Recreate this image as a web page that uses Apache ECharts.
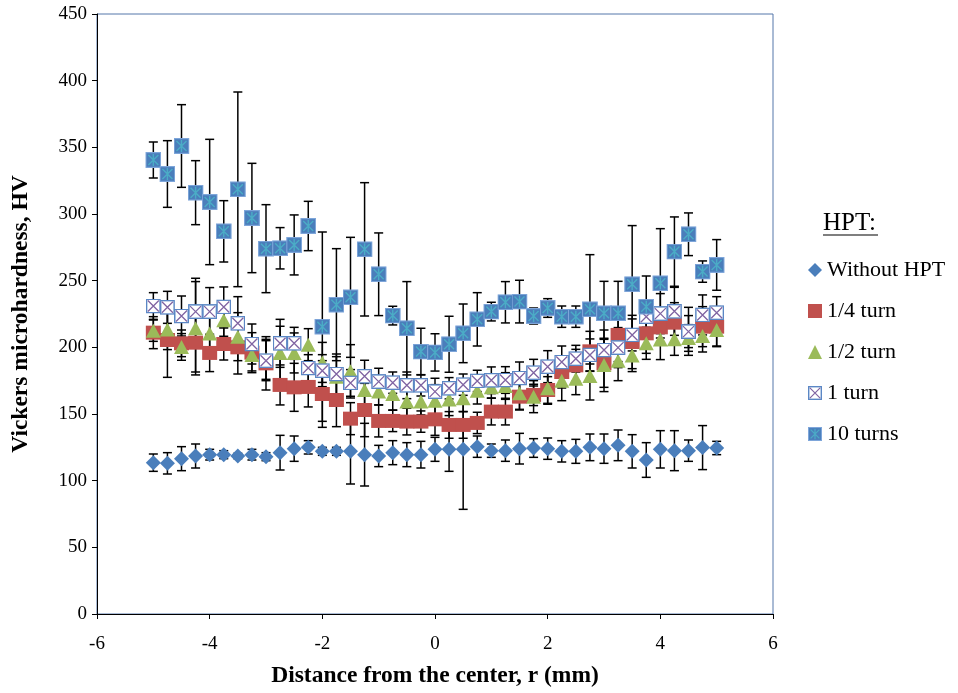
<!DOCTYPE html>
<html><head><meta charset="utf-8">
<script src="https://cdn.jsdelivr.net/npm/echarts@6/dist/echarts.min.js"></script>
<style>html,body{margin:0;padding:0;background:#fff}#c{width:958px;height:693px}</style>
</head><body><div id="c"></div>
<script>
// Distance from the center, r (mm)
const distance = [-5, -4.75, -4.5, -4.25, -4, -3.75, -3.5, -3.25, -3, -2.75, -2.5, -2.25, -2, -1.75, -1.5, -1.25, -1, -0.75, -0.5, -0.25, 0,
  0.25, 0.5, 0.75, 1, 1.25, 1.5, 1.75, 2, 2.25, 2.5, 2.75, 3, 3.25, 3.5, 3.75, 4, 4.25, 4.5, 4.75, 5];

const withoutHPT = [113.5, 113, 116.5, 118.5, 119.5, 119.5, 118.5, 119.5, 118, 121, 124, 125, 122, 122, 122, 119.5, 118.5, 121, 119.5, 119.5, 123.5,
  123.5, 123.5, 125.5, 122.5, 122.5, 124, 124.5, 124, 122, 122, 125, 124, 126.5, 122, 115.5, 123.5, 122.5, 122.5, 124.8, 124.5];
const withoutHPTErr = [6.5, 8, 9, 9, 4, 3, 2, 4, 3, 13, 9.5, 5, 3, 3, 24.5, 23.5, 8, 9, 9, 10, 9,
  16.5, 45, 8, 5, 8, 11.5, 7, 8, 8, 9, 10, 11, 11.5, 12.5, 13, 14, 15, 8, 16.5, 5];

const quarterTurn = [211, 205.5, 203, 203.5, 195.8, 202.5, 200, 196, 188, 171.8, 170, 170.3, 165, 160.5, 146.5, 153, 144.8, 144.8, 144.3, 144.3, 146,
  141.8, 141.8, 143.3, 151.8, 151.8, 163, 164.3, 168, 181.5, 186.5, 197, 188, 209.3, 204, 210.5, 215, 218.5, 212, 215.5, 215.5];
const quarterTurnErr = [12, 28, 10, 22, 14, 12, 20, 15, 20, 15, 18, 15, 25, 20, 12, 20, 12, 8, 10, 8, 12,
  10, 10, 8, 10, 10, 10, 8, 10, 12, 12, 15, 18, 20, 20, 15, 12, 15, 18, 15, 15];

const halfTurn = [212.5, 213.3, 200.3, 214.3, 210.3, 220.3, 208, 194.3, 191, 195.8, 195.8, 202, 188.7, 178, 182, 168, 166.8, 165, 159.3, 159.3, 160,
  160.8, 161.8, 167.5, 170, 171, 165.5, 163, 169.3, 175, 176.5, 178.5, 186.8, 190, 193.8, 203, 205.8, 206, 207, 208.5, 213];
const halfTurnErr = [8, 15, 10, 35, 15, 12, 18, 12, 15, 20, 15, 12, 15, 15, 20, 12, 10, 12, 12, 10, 12,
  12, 10, 10, 8, 10, 12, 12, 12, 15, 12, 18, 20, 15, 12, 12, 15, 12, 10, 12, 12];

const oneTurn = [231, 230, 223.5, 226.8, 226.8, 230.3, 218, 202.5, 190, 203, 203, 184.5, 182.5, 180, 173.3, 178.3, 174.3, 173.5, 171.5, 171.5, 166.8,
  169.3, 172, 174.8, 175.3, 175.5, 177, 181, 185.5, 189, 191.5, 194.3, 198, 199.8, 209.3, 223, 225.3, 227, 211.8, 224.3, 226];
const oneTurnErr = [10, 12, 15, 25, 18, 15, 20, 15, 15, 18, 12, 10, 12, 15, 10, 12, 10, 8, 10, 8, 10,
  8, 8, 8, 10, 10, 12, 10, 12, 12, 10, 12, 15, 15, 12, 12, 15, 18, 12, 15, 12];

const tenTurns = [340.5, 330, 351, 316, 309, 287, 318.5, 297, 274, 274.3, 276.8, 291, 215.5, 232, 237.5, 273.5, 254.8, 223.8, 214.3, 196.8, 196.2,
  202.3, 210.5, 221, 226.8, 233.8, 234.3, 223.5, 229.5, 223, 223, 228.5, 225.5, 225.5, 247.3, 230.5, 248, 271.8, 284.8, 256.8, 261.8];
const tenTurnsErr = [13.5, 25, 31, 24, 47, 23, 73, 41, 33, 15.5, 22.5, 18.5, 71, 42, 45, 50, 31, 7, 35, 17.5, 14,
  21, 22, 20, 7, 15.5, 16, 6, 7, 8, 8, 41, 24, 24, 44, 23, 41, 26, 16, 8, 19];

const seriesNames = ['Without HPT', '1/4 turn', '1/2 turn', '1 turn', '10 turns'];

const serif = "'Liberation Serif', 'Times New Roman', serif";

function svgUri(svg) { return 'image://data:image/svg+xml;charset=utf-8,' + encodeURIComponent(svg); }
const oneTurnIcon = svgUri("<svg xmlns='http://www.w3.org/2000/svg' width='30' height='30' viewBox='0 0 15 15'>" +
  "<rect x='0.75' y='0.75' width='13.5' height='13.5' fill='#ffffff' stroke='#5b87c5' stroke-width='1.5'/>" +
  "<path d='M2 2L13 13M13 2L2 13' stroke='#8064a2' stroke-width='1.3' fill='none'/></svg>");
const tenTurnsIcon = svgUri("<svg xmlns='http://www.w3.org/2000/svg' width='32' height='32' viewBox='0 0 16 16'>" +
  "<rect x='0.6' y='0.6' width='14.8' height='14.8' fill='#4a7ebb' stroke='#7ea6da' stroke-width='1.2'/>" +
  "<path d='M3 3L13 13M13 3L3 13M8 2V14' stroke='#4bacc6' stroke-width='1.4' fill='none'/></svg>");

function pts(vals) { return distance.map((x, i) => [x, vals[i]]); }
function errSeries(vals, errs) {
  return {
    type: 'custom', silent: true, z: 1,
    data: distance.map((x, i) => [x, vals[i] - errs[i], vals[i] + errs[i]]),
    encode: { x: 0, y: [1, 2] },
    renderItem: function (params, api) {
      const x = api.value(0);
      const lo = api.coord([x, api.value(1)]);
      const hi = api.coord([x, api.value(2)]);
      const w = 4.5;
      const st = { stroke: '#000', lineWidth: 1.5 };
      return {
        type: 'group', children: [
          { type: 'line', shape: { x1: lo[0], y1: lo[1], x2: hi[0], y2: hi[1] }, style: st },
          { type: 'line', shape: { x1: lo[0] - w, y1: lo[1], x2: lo[0] + w, y2: lo[1] }, style: st },
          { type: 'line', shape: { x1: hi[0] - w, y1: hi[1], x2: hi[0] + w, y2: hi[1] }, style: st }
        ]
      };
    }
  };
}

const chart = echarts.init(document.getElementById('c'), null, { renderer: 'canvas' });
chart.setOption({
  animation: false,
  backgroundColor: '#ffffff',
  grid: { left: 97, right: 185, top: 14, bottom: 79, show: true, borderColor: '#5577aa', borderWidth: 1 },
  xAxis: {
    type: 'value', min: -6, max: 6, interval: 2,
    name: 'Distance from the center, r (mm)', nameLocation: 'middle', nameGap: 50,
    nameTextStyle: { fontFamily: serif, fontWeight: 'bold', fontSize: 23.5, color: '#000' },
    axisLine: { onZero: false, lineStyle: { color: '#000', width: 1 } },
    axisTick: { show: true, inside: false, length: 5, lineStyle: { color: '#000' } },
    axisLabel: { fontFamily: serif, fontSize: 19, color: '#000', margin: 21 },
    splitLine: { show: false }
  },
  yAxis: {
    type: 'value', min: 0, max: 450, interval: 50,
    name: 'Vickers microhardness, HV', nameLocation: 'middle', nameGap: 64, nameRotate: 90,
    nameTextStyle: { fontFamily: serif, fontWeight: 'bold', fontSize: 23.5, color: '#000' },
    axisLine: { show: true, onZero: false, lineStyle: { color: '#000', width: 1 } },
    axisTick: { show: true, inside: false, length: 5, lineStyle: { color: '#000' } },
    axisLabel: { fontFamily: serif, fontSize: 19, color: '#000', margin: 10 },
    splitLine: { show: false }
  },
  legend: {
    orient: 'vertical', left: 803, top: 254, itemWidth: 14, itemHeight: 14, itemGap: 19,
    textStyle: { fontFamily: serif, fontSize: 22, color: '#000' },
    data: [
      { name: seriesNames[0], icon: 'diamond' },
      { name: seriesNames[1], icon: 'rect' },
      { name: seriesNames[2], icon: 'triangle' },
      { name: seriesNames[3], icon: oneTurnIcon },
      { name: seriesNames[4], icon: tenTurnsIcon }
    ]
  },
  graphic: [
    { type: 'text', left: 823, top: 211, style: { text: 'HPT:', fontFamily: serif, fontSize: 25, fill: '#000' } },
    { type: 'line', shape: { x1: 823, y1: 235, x2: 878, y2: 235 }, style: { stroke: '#000', lineWidth: 1.2 } }
  ],
  series: [
    errSeries(withoutHPT, withoutHPTErr),
    errSeries(quarterTurn, quarterTurnErr),
    errSeries(halfTurn, halfTurnErr),
    errSeries(oneTurn, oneTurnErr),
    errSeries(tenTurns, tenTurnsErr),
    { name: seriesNames[0], type: 'scatter', z: 2, data: pts(withoutHPT), symbol: 'diamond', symbolSize: [15, 15],
      itemStyle: { color: '#4a7ebb', opacity: 1 } },
    { name: seriesNames[1], type: 'scatter', z: 3, data: pts(quarterTurn), symbol: 'rect', symbolSize: [15, 14],
      itemStyle: { color: '#c0504d', opacity: 1 } },
    { name: seriesNames[2], type: 'scatter', z: 4, data: pts(halfTurn), symbol: 'triangle', symbolSize: [15, 14],
      itemStyle: { color: '#9bbb59', opacity: 1 } },
    { name: seriesNames[3], type: 'scatter', z: 5, data: pts(oneTurn), symbol: oneTurnIcon, symbolSize: [15, 15],
      itemStyle: { color: '#8064a2', opacity: 1 } },
    { name: seriesNames[4], type: 'scatter', z: 6, data: pts(tenTurns), symbol: tenTurnsIcon, symbolSize: [16, 16],
      itemStyle: { color: '#4a7ebb', opacity: 1 } }
  ]
});
</script>
</body></html>
